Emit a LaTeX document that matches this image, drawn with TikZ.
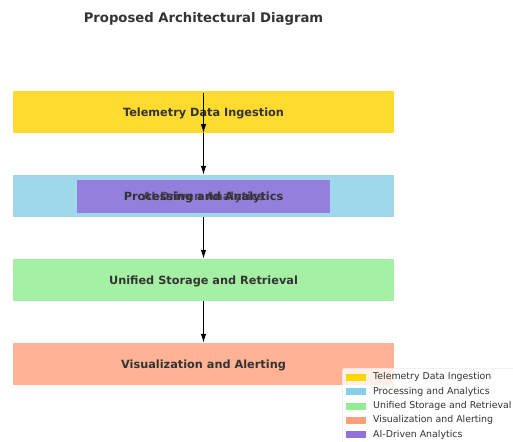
\documentclass[tikz,border=0pt]{standalone}
\usepackage{fontspec}
\setmainfont{DejaVu Sans}
\usetikzlibrary{arrows.meta}
\definecolor{cgold}{RGB}{255,219,48}
\definecolor{csky}{RGB}{159,216,235}
\definecolor{cgreen}{RGB}{166,240,166}
\definecolor{csalmon}{RGB}{255,178,148}
\definecolor{cpurple}{RGB}{148,128,220}
\definecolor{ctext}{RGB}{51,51,51}
\definecolor{lgold}{RGB}{255,215,0}
\definecolor{lsky}{RGB}{135,206,235}
\definecolor{lgreen}{RGB}{144,238,144}
\definecolor{lsalmon}{RGB}{255,160,122}
\definecolor{lpurple}{RGB}{147,112,219}
\tikzset{
  layer/.style={minimum width=381pt, minimum height=42pt, inner sep=0pt},
  ltext/.style={anchor=base, inner sep=0pt, font=\fontsize{11.3}{13}\selectfont\bfseries, text=ctext},
  flow/.style={-{Latex[length=9pt,width=5.5pt]}, line width=1pt, black},
  patch/.style={minimum width=20pt, minimum height=7pt, inner sep=0pt},
  legtext/.style={anchor=west, inner sep=0pt, font=\fontsize{9.4}{11}\selectfont, text=ctext}
}
\begin{document}
\begin{tikzpicture}[x=1pt,y=-1pt]
\useasboundingbox (0,0) rectangle (513,441);
\node[anchor=base, inner sep=0pt, font=\fontsize{13.2}{15}\selectfont\bfseries, text=ctext] (title) at (203.5,23) {Proposed Architectural Diagram};
\node[layer, fill=cgold] (tele) at (203.5,112) {};
\node[layer, fill=csky] (proc) at (203.5,196) {};
\node[layer, fill=cgreen] (stor) at (203.5,280) {};
\node[layer, fill=csalmon] (vis) at (203.5,364) {};
\node[minimum width=253pt, minimum height=33pt, inner sep=0pt, fill=cpurple] (ai) at (203.5,196.5) {};
\node[ltext] (telet) at (203.5,116) {Telemetry Data Ingestion};
\node[ltext] (proct) at (203.5,200) {Processing and Analytics};
\node[ltext, opacity=0.75] (ait) at (203.5,200) {AI-Driven Analytics};
\node[ltext] (stort) at (203.5,284) {Unified Storage and Retrieval};
\node[ltext] (vist) at (203.5,368) {Visualization and Alerting};
\coordinate (a1s) at (203.5,93);
\draw[flow] (a1s) -- (tele.south);
\draw[flow] (tele.south) -- (proc.north);
\draw[flow] (proc.south) -- (stor.north);
\draw[flow] (stor.south) -- (vis.north);
% legend
\node[draw=black!15, fill=white, fill opacity=0.8, rounded corners=2pt, minimum width=180pt, minimum height=80pt, anchor=north west] (leg) at (342,368) {};
\node[patch, fill=lgold] (p1) at (356,377) {};
\node[patch, fill=lsky] (p2) at (356,391.5) {};
\node[patch, fill=lgreen] (p3) at (356,406) {};
\node[patch, fill=lsalmon] (p4) at (356,420) {};
\node[patch, fill=lpurple] (p5) at (356,434.5) {};
\node[legtext] (t1) at (373,377) {Telemetry Data Ingestion};
\node[legtext] (t2) at (373,391.5) {Processing and Analytics};
\node[legtext] (t3) at (373,406) {Unified Storage and Retrieval};
\node[legtext] (t4) at (373,420) {Visualization and Alerting};
\node[legtext] (t5) at (373,434.5) {AI-Driven Analytics};
\end{tikzpicture}
\end{document}
